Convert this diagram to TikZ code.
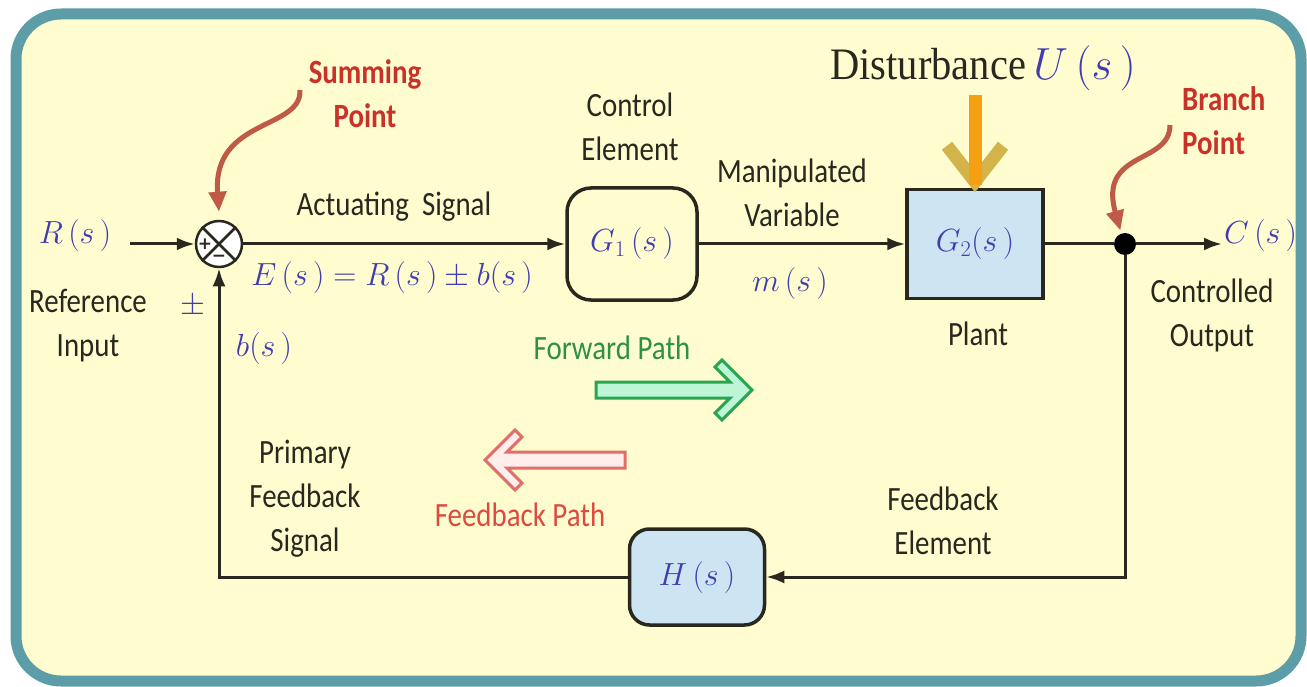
\documentclass[tikz,border=0pt]{standalone}
\usepackage{fix-cm}
\usepackage{fontspec}
\usepackage{graphicx}
\usetikzlibrary{arrows.meta}
\newfontfamily\carlito{Carlito}
\newfontfamily\libserif{Liberation Serif}
\newfontfamily\dejavu{DejaVu Sans}

\definecolor{bgyellow}{RGB}{255,253,208}
\definecolor{frametl}{RGB}{92,157,168}
\definecolor{ink}{RGB}{40,40,30}
\definecolor{redlbl}{RGB}{200,50,40}
\definecolor{curvecol}{RGB}{190,90,70}
\definecolor{boxblue}{RGB}{205,228,242}
\definecolor{mathblue}{RGB}{65,60,175}
\definecolor{fwdline}{RGB}{40,165,80}
\definecolor{fwdfill}{RGB}{190,245,215}
\definecolor{fbline}{RGB}{225,110,105}
\definecolor{fbfill}{RGB}{255,238,235}
\definecolor{fwdtext}{RGB}{45,145,65}
\definecolor{fbtext}{RGB}{220,75,65}
\definecolor{distorange}{RGB}{245,160,20}
\definecolor{distolive}{RGB}{210,180,75}

% narrow label text, centred or left-aligned lines
\newcommand\sq[1]{\scalebox{0.85}[1]{\begin{tabular}{@{}c@{}}#1\end{tabular}}}
\newcommand\sql[1]{\scalebox{0.85}[1]{\begin{tabular}{@{}l@{}}#1\end{tabular}}}

\tikzset{
  lbl/.style={font=\carlito\fontsize{34}{44}\selectfont, text=ink, inner sep=0pt},
  redbold/.style={lbl, font=\carlito\bfseries\fontsize{34}{44}\selectfont, text=redlbl},
  mathlbl/.style={font=\fontsize{32}{36}\selectfont, text=mathblue, inner sep=0pt},
  conn/.style={draw=ink, line width=3pt},
  tip/.style={-{Latex[length=18pt,width=13pt]}},
  blockbox/.style={draw=ink, line width=3.5pt, inner sep=0pt, font=\fontsize{32}{36}\selectfont, text=mathblue},
  sumnode/.style={circle, draw=ink, line width=2.5pt, fill=white, minimum size=46pt, inner sep=0pt},
  signnode/.style={text=ink, font=\dejavu\bfseries\fontsize{17}{17}\selectfont, inner sep=0pt},
  dotnode/.style={circle, fill=black, minimum size=22pt, inner sep=0pt},
  pointer/.style={draw=curvecol, line width=5pt, -{Triangle[length=20pt,width=17pt]}},
}

\begin{document}
\begin{tikzpicture}[x=1pt,y=-1pt]
\useasboundingbox (0,0) rectangle (1307,687);
\fill[white] (0,0) rectangle (1307,687);
\draw[draw=frametl, line width=11pt, fill=bgyellow, rounded corners=45pt] (16,14) rectangle (1301,681);

% blocks
\node[sumnode] (sum) at (219,244) {};
\draw[ink, line width=2.5pt] (sum.45) -- (sum.225) (sum.135) -- (sum.315);
\node[signnode] (plus) at (205,244) {+};
\node[signnode] (minus) at (219,258) {−};

\node[blockbox, rounded corners=24pt, minimum width=130pt, minimum height=112pt] (g1) at (632,244) {$G_1\,(s\,)$};
\node[blockbox, fill=boxblue, minimum width=136pt, minimum height=109pt] (g2) at (975,244) {$G_2(s\,)$};
\node[blockbox, fill=boxblue, rounded corners=20pt, minimum width=135pt, minimum height=96pt] (h) at (697,577) {$H\,(s\,)$};
\node[dotnode] (br) at (1125,244) {};

\coordinate (rin) at (130,244);
\coordinate (cout) at (1222,244);
\coordinate (dtop) at (975,95);
\coordinate (sumtail) at (300,90);
\coordinate (brtail) at (1170,125);

% signal connectors
\draw[conn, tip] (rin) -- (sum);
\draw[conn, tip] (sum) -- (g1);
\draw[conn, tip] (g1) -- (g2);
\draw[conn] (g2) -- (br);
\draw[conn, tip] (br) -- (cout);
\draw[conn, tip] (br) |- (h);
\draw[conn, tip] (h) -| (sum);

% disturbance input
\draw[distolive, line width=13pt] ([xshift=-28pt,yshift=42pt]g2.north) -- ([yshift=6pt]g2.north) -- ([xshift=28pt,yshift=42pt]g2.north);
\draw[distorange, line width=13pt] (dtop) -- ([yshift=3pt]g2.north);

% pointers to summing and branch points
\draw[pointer] (sumtail) .. controls (302,130) and (212,118) .. ([yshift=8pt]sum.north);
\draw[pointer, shorten >=3pt] (brtail) .. controls (1170,165) and (1098,150) .. (br.110);

% path arrows
\draw[draw=fwdline, fill=fwdfill, line width=3pt, line join=miter]
  (596,382) -- (730,382) -- (715,367) -- (722,360) -- (752,390) -- (722,420) -- (715,413) -- (730,398) -- (596,398) -- cycle;
\draw[draw=fbline, fill=fbfill, line width=3pt, line join=miter]
  (625,452) -- (507,452) -- (522,437) -- (515,430) -- (485,460) -- (515,490) -- (522,483) -- (507,468) -- (625,468) -- cycle;

% labels
\node[mathlbl] (rs) at (75,236) {$R\,(s\,)$};
\node[lbl] (refin) at (88,326) {\sq{Reference\\Input}};
\node[mathlbl] (pm) at (193,306) {$\pm$};
\node[mathlbl] (bs) at (264,348) {$b(s\,)$};
\node[mathlbl] (es) at (392,278) {$E\,(s\,)=R\,(s\,)\pm b(s\,)$};
\node[lbl] (act) at (394,207) {\sq{Actuating\ \ Signal}};
\node[redbold] (sumlbl) at (365,97) {\sq{Summing\\Point}};
\node[lbl] (ctrl) at (630,130) {\sq{Control\\Element}};
\node[lbl] (manip) at (792,196) {\sq{Manipulated\\Variable}};
\node[mathlbl] (ms) at (790,284) {$m\,(s\,)$};
\node[font=\fontsize{45}{50}\selectfont, text=ink, inner sep=0pt] (dist) at (983,68)
  {\scalebox{0.9}[1]{\libserif Disturbance}\,\textcolor{mathblue}{$U\,(s\,)$}};
\node[lbl] (plant) at (978,337) {\sq{Plant}};
\node[redbold, anchor=west] (brlbl) at (1182,124) {\sql{Branch\\Point}};
\node[mathlbl, anchor=west] (cs) at (1224,236) {$C\,(s\,)$};
\node[lbl] (coutlbl) at (1212,316) {\sq{Controlled\\Output}};
\node[lbl, text=fwdtext] (fwd) at (612,351) {\sq{Forward Path}};
\node[lbl, text=fbtext] (fb) at (520,518) {\sq{Feedback Path}};
\node[lbl] (pfs) at (305,499) {\sq{Primary\\Feedback\\Signal}};
\node[lbl] (fbe) at (943,524) {\sq{Feedback\\Element}};
\end{tikzpicture}
\end{document}
